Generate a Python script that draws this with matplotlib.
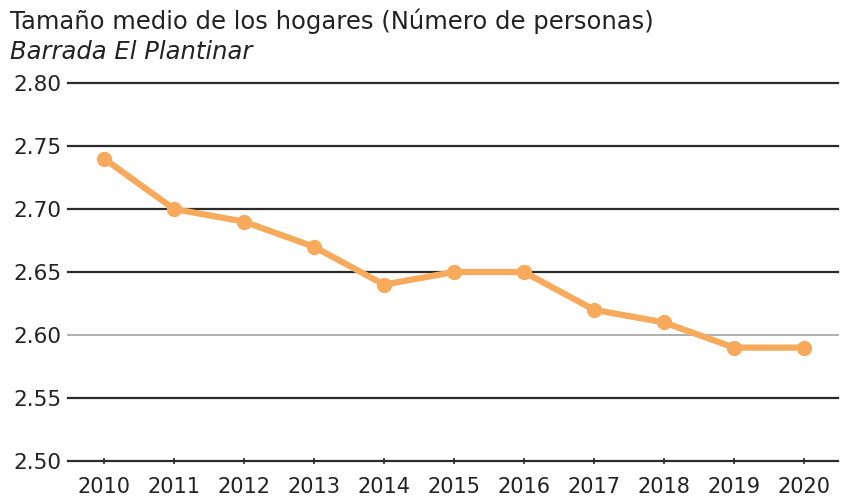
import matplotlib
matplotlib.use("Agg")
import matplotlib.pyplot as plt

years = [2010, 2011, 2012, 2013, 2014, 2015, 2016, 2017, 2018, 2019, 2020]
values = [2.74, 2.70, 2.69, 2.67, 2.64, 2.65, 2.65, 2.62, 2.61, 2.59, 2.59]
yticks = [2.50, 2.55, 2.60, 2.65, 2.70, 2.75, 2.80]
title = "Tamaño medio de los hogares (Número de personas)"
subtitle = "Barrada El Plantinar"

plt.rcParams['font.family'] = ['DejaVu Sans']
fig = plt.figure(figsize=(8.49, 5.04), dpi=100)
ax = fig.add_axes([0.0801, 0.0853, 0.987 - 0.0801, 0.8353 - 0.0853])

for t in yticks:
    if abs(t - 2.60) < 1e-9:
        ax.axhline(t, color='#a8a8a8', lw=1.3, zorder=1, clip_on=False)
    else:
        ax.axhline(t, color='#2b2b2b', lw=1.6, zorder=1, clip_on=False)

ax.plot(years, values, color='#F7AA5C', lw=4.5, marker='o', markersize=10,
        solid_capstyle='round', zorder=3)

ax.set_xlim(2009.486, 2020.486)
ax.set_ylim(2.50, 2.80)
ax.set_yticks(yticks)
ax.set_yticklabels([f"{t:.2f}" for t in yticks])
ax.set_xticks(years)
ax.set_xticklabels([str(y) for y in years])
for s in ax.spines.values():
    s.set_visible(False)
ax.tick_params(axis='y', length=0, pad=5, labelsize=15.5, colors='#222222')
ax.tick_params(axis='x', direction='inout', length=5, width=1.2, color='#2b2b2b',
               pad=9, labelsize=15, labelcolor='#222222')

fig.text(0.012, 0.957, title, fontsize=17.5, color='#222222', va='center', ha='left')
fig.text(0.012, 0.897, subtitle, fontsize=17.5, color='#222222', va='center', ha='left',
         style='italic')

fig.savefig("out.png", dpi=100)
